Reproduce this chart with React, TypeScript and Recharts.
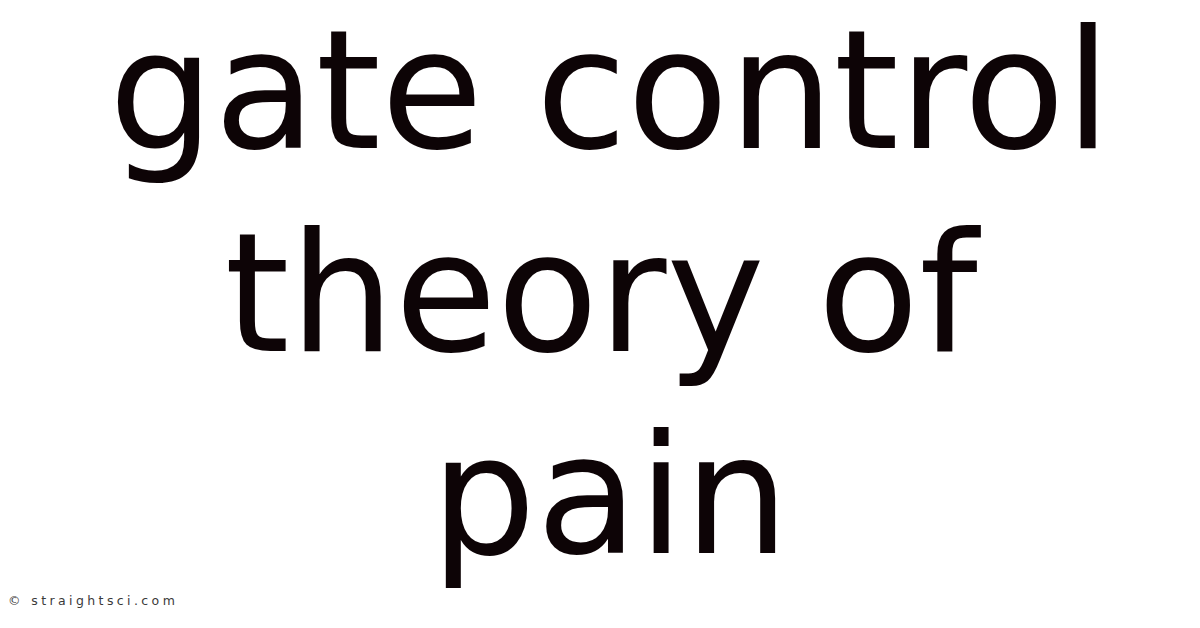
import { Surface, Text } from 'recharts';

const titleLines = ['gate control', 'theory of', 'pain'];
const watermark = '© straightsci.com';

const W = 1200;
const H = 628;
// small per-line nudges so each line sits where the reference has it
const lineShift = [10, 1, 10];

export default function App() {
  return (
    <div style={{ position: 'fixed', left: 0, top: 0, width: W, height: H, background: '#fff' }}>
      <Surface width={W} height={H}>
        {titleLines.map((line, i) => (
          <Text
            key={line}
            x={W / 2 + lineShift[i]}
            y={148 + i * 202.5}
            textAnchor="middle"
            fontFamily="DejaVu Sans"
            fontSize={166}
            fill="#0d0406"
          >
            {line}
          </Text>
        ))}
        <Text
          x={8}
          y={605}
          fontFamily="DejaVu Sans"
          fontSize={12.5}
          letterSpacing={3.4}
          fill="#3a3a3a"
        >
          {watermark}
        </Text>
      </Surface>
    </div>
  );
}
